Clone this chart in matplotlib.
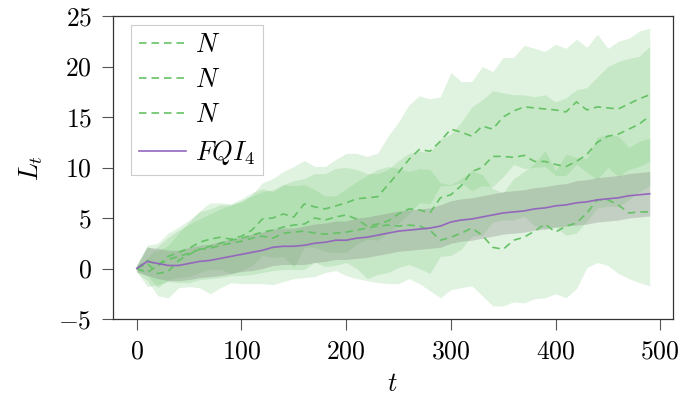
"""Cumulative return L_t over time: three N runs against FQI_4."""

import matplotlib
matplotlib.use("Agg")
import matplotlib.pyplot as plt

plt.rcParams["font.family"] = "cmr10"
plt.rcParams["mathtext.fontset"] = "cm"
plt.rcParams["axes.formatter.use_mathtext"] = True

t = list(range(0, 500, 10))

mean_a = [0.0, 0.8, 0.3, 1.2, 1.6, 2.0, 2.6, 2.9, 3.1, 2.9,
          3.2, 3.8, 4.9, 5.0, 5.4, 5.1, 6.4, 6.1, 5.9, 6.2,
          6.5, 6.9, 7.0, 7.1, 8.3, 9.5, 10.8, 11.8, 11.6, 12.6,
          13.8, 13.5, 13.1, 14.1, 13.8, 15.0, 15.6, 16.0, 15.9, 15.8,
          15.7, 15.5, 16.5, 15.7, 16.0, 15.9, 15.8, 16.3, 16.8, 17.2]
std_a = [0.3, 1.5, 2.2, 2.3, 2.5, 2.8, 3.0, 3.0, 3.2, 3.4,
         3.4, 3.5, 3.6, 3.9, 4.2, 5.0, 4.3, 4.0, 4.2, 4.6,
         4.9, 4.5, 4.1, 4.3, 4.8, 5.0, 5.4, 5.3, 5.2, 4.4,
         5.6, 5.0, 5.4, 5.9, 5.7, 5.9, 5.3, 6.1, 5.9, 5.7,
         6.5, 6.3, 6.2, 6.2, 7.2, 5.9, 6.7, 6.5, 6.7, 6.6]

mean_b = [0.0, -0.4, 0.3, 0.9, 1.2, 1.5, 1.9, 2.2, 2.5, 2.8,
          3.0, 3.3, 3.6, 3.8, 4.1, 4.3, 4.4, 5.0, 4.8, 5.1,
          5.3, 4.9, 4.2, 4.4, 4.7, 5.4, 5.9, 5.8, 5.5, 7.0,
          7.3, 8.2, 9.6, 10.0, 11.1, 11.1, 11.0, 11.2, 10.6, 10.6,
          10.3, 10.1, 10.6, 11.3, 12.5, 13.1, 13.3, 13.8, 14.3, 15.1]
std_b = [0.3, 1.4, 1.9, 2.2, 2.6, 2.9, 3.0, 3.2, 3.4, 3.5,
         3.7, 3.9, 4.0, 4.0, 4.2, 4.4, 4.5, 4.4, 4.6, 4.8,
         4.7, 4.9, 5.2, 5.0, 5.1, 5.3, 5.5, 5.8, 6.0, 5.8,
         6.0, 6.3, 6.4, 6.7, 6.5, 6.3, 6.2, 6.0, 6.4, 6.6,
         6.2, 6.8, 7.1, 6.6, 6.5, 6.9, 7.2, 7.0, 6.7, 6.9]

mean_c = [0.0, 0.5, -0.5, -0.3, 0.8, 1.4, 1.9, 2.0, 2.3, 2.5,
          2.7, 3.0, 3.2, 3.0, 3.5, 3.6, 3.7, 3.5, 3.4, 3.5,
          3.6, 3.8, 4.0, 4.2, 4.3, 4.2, 4.3, 4.2, 3.8, 2.8,
          3.1, 3.5, 4.0, 3.3, 2.1, 1.9, 2.8, 3.1, 3.7, 4.4,
          3.6, 4.2, 4.5, 5.5, 6.8, 6.8, 6.3, 5.5, 5.6, 5.6]
std_c = [0.4, 1.7, 2.2, 2.6, 2.7, 3.2, 3.8, 4.5, 4.2, 3.9,
         4.2, 4.5, 4.7, 4.6, 4.8, 4.6, 4.6, 4.3, 3.8, 3.7,
         4.3, 4.8, 5.2, 5.6, 5.8, 5.7, 5.3, 5.7, 6.0, 5.7,
         5.2, 5.4, 5.7, 6.0, 5.8, 5.6, 6.1, 6.5, 6.7, 7.3,
         6.1, 7.1, 6.5, 5.4, 6.2, 6.5, 6.8, 6.5, 7.0, 7.3]

mean_fqi = [0.0, 0.7, 0.5, 0.3, 0.3, 0.5, 0.7, 0.8, 1.0, 1.2,
            1.4, 1.6, 1.8, 2.1, 2.2, 2.2, 2.3, 2.5, 2.6, 2.8,
            2.8, 3.0, 3.1, 3.3, 3.5, 3.7, 3.8, 3.9, 4.0, 4.2,
            4.6, 4.8, 4.9, 5.1, 5.3, 5.5, 5.6, 5.7, 5.9, 6.0,
            6.2, 6.3, 6.5, 6.6, 6.8, 6.9, 7.0, 7.2, 7.3, 7.4]
std_fqi = [0.3, 1.4, 1.5, 1.5, 1.5, 1.6, 1.6, 1.6, 1.7, 1.7,
           1.7, 1.8, 1.8, 1.8, 1.8, 1.8, 1.9, 1.9, 1.9, 1.9,
           1.9, 2.0, 2.0, 2.0, 2.0, 2.0, 2.0, 2.0, 2.0, 2.1,
           2.1, 2.1, 2.1, 2.1, 2.1, 2.1, 2.1, 2.1, 2.1, 2.1,
           2.1, 2.1, 2.2, 2.2, 2.2, 2.2, 2.2, 2.2, 2.2, 2.2]

green = "#66c266"
purple = "#9467bd"

fig = plt.figure(figsize=(6.83, 4.0), dpi=100)
ax = fig.add_axes([0.165, 0.2025, 0.82, 0.7575])

# light bands: mean +/- std, overlapping ones darken naturally
for m, s in [(mean_a, std_a), (mean_b, std_b), (mean_c, std_c)]:
    lo = [a - b for a, b in zip(m, s)]
    hi = [a + b for a, b in zip(m, s)]
    ax.fill_between(t, lo, hi, color=green, alpha=0.2, linewidth=0)

lo = [a - b for a, b in zip(mean_fqi, std_fqi)]
hi = [a + b for a, b in zip(mean_fqi, std_fqi)]
ax.fill_between(t, lo, hi, color="gray", alpha=0.3, linewidth=0)

for m in (mean_a, mean_b, mean_c):
    ax.plot(t, m, color=green, linewidth=1.2, linestyle=(0, (4.5, 3.0)), label="$N$")
ax.plot(t, mean_fqi, color=purple, linewidth=1.2, label="$FQI_4$")

ax.set_xlim(-23, 512)
ax.set_ylim(-5, 25)
ax.set_xticks([0, 100, 200, 300, 400, 500])
ax.set_yticks([-5, 0, 5, 10, 15, 20, 25])
ax.tick_params(labelsize=18.5, length=8, width=0.8, pad=7, color="#555555")
for sp in ax.spines.values():
    sp.set_color("#333333")
    sp.set_linewidth(0.9)

ax.set_xlabel("$t$", fontsize=19, labelpad=6)
ax.set_ylabel("$L_t$", fontsize=19, labelpad=10)

leg = ax.legend(loc="upper left", fontsize=19, fancybox=False, framealpha=1,
                edgecolor="#cccccc", handlelength=1.8, labelspacing=0.43,
                borderpad=0.3, handletextpad=0.35, borderaxespad=0,
                bbox_to_anchor=(0.032, 0.97))
leg.get_frame().set_linewidth(0.8)

fig.savefig("out.png", dpi=100)
